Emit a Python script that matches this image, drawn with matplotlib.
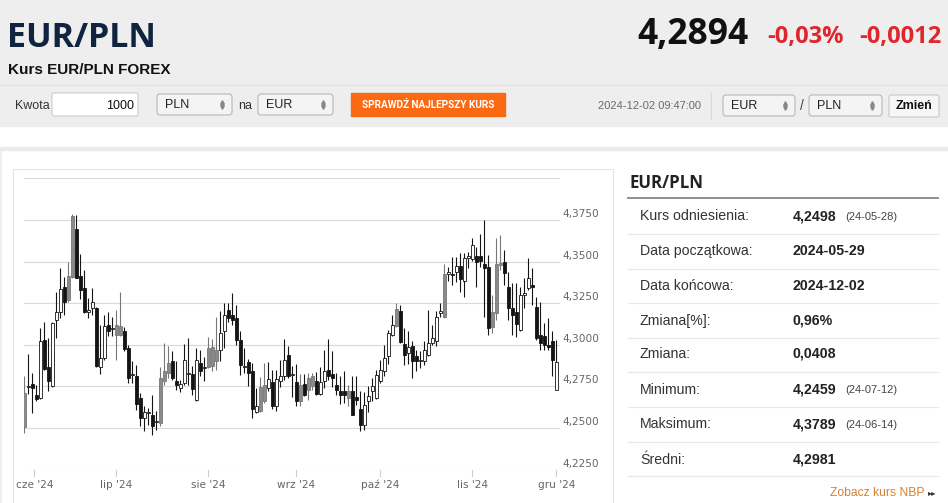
import numpy as np
import pandas as pd
import matplotlib
matplotlib.use("Agg")
import matplotlib.pyplot as plt
from matplotlib.patches import Rectangle, FancyBboxPatch
import matplotlib.transforms as mtransforms

# ---------------- data ----------------
dates = pd.bdate_range("2024-05-29", "2024-12-02")

open_ = [4.2504, 4.2745, 4.2764, 4.2696, 4.2680, 4.3030, 4.2864, 4.2750, 4.3150, 4.3200,
         4.3350, 4.3270, 4.3410, 4.3696, 4.3416, 4.3340, 4.3196, 4.3220, 4.3224, 4.2864,
         4.2920, 4.3120, 4.3094, 4.3056, 4.3056, 4.3084, 4.2980, 4.2818, 4.2810, 4.2680,
         4.2560, 4.2588, 4.2580, 4.2534, 4.2530, 4.2784, 4.2830, 4.2904, 4.2780, 4.2740,
         4.2770, 4.2822, 4.2824, 4.2670, 4.2890, 4.2858, 4.2864, 4.2870, 4.2900, 4.2970,
         4.3080, 4.3210, 4.3180, 4.3160, 4.3030, 4.2864, 4.2896, 4.2844, 4.2596, 4.2600,
         4.2660, 4.2740, 4.2776, 4.2630, 4.2780, 4.2810, 4.2940, 4.2818, 4.2776, 4.2660,
         4.2764, 4.2730, 4.2750, 4.2780, 4.2704, 4.2784, 4.2850, 4.2824, 4.2760, 4.2720,
         4.2724, 4.2680, 4.2724, 4.2686, 4.2616, 4.2516, 4.2660, 4.2720, 4.2680, 4.2780,
         4.2840, 4.2930, 4.3060, 4.3110, 4.3204, 4.3004, 4.2950, 4.2990, 4.2930, 4.2902,
         4.2900, 4.2940, 4.3010, 4.3020, 4.3194, 4.3170, 4.3428, 4.3422, 4.3440, 4.3476,
         4.3384, 4.3524, 4.3516, 4.3536, 4.3536, 4.3484, 4.3470, 4.3104, 4.3190, 4.3482,
         4.3500, 4.3350, 4.3220, 4.3200, 4.3090, 4.3302, 4.3340, 4.3360, 4.3230, 4.3060,
         4.3050, 4.3000, 4.3024, 4.2730]
high_ = [4.2810, 4.2944, 4.2830, 4.2760, 4.3100, 4.3136, 4.3040, 4.3136, 4.3320, 4.3460,
         4.3410, 4.3496, 4.3789, 4.3780, 4.3544, 4.3450, 4.3284, 4.3340, 4.3230, 4.3120,
         4.3180, 4.3200, 4.3170, 4.3210, 4.3316, 4.3104, 4.3000, 4.2900, 4.2880, 4.2710,
         4.2630, 4.2620, 4.2696, 4.2600, 4.2864, 4.3010, 4.2990, 4.2960, 4.2904, 4.2790,
         4.3004, 4.3040, 4.2870, 4.2980, 4.2970, 4.2924, 4.3044, 4.3036, 4.3170, 4.3204,
         4.3250, 4.3250, 4.3310, 4.3240, 4.3084, 4.2980, 4.2916, 4.2890, 4.2740, 4.2804,
         4.2890, 4.2896, 4.2850, 4.2850, 4.2910, 4.3036, 4.2990, 4.2870, 4.2884, 4.2824,
         4.2824, 4.2830, 4.2830, 4.2836, 4.2864, 4.2970, 4.3036, 4.2964, 4.2830, 4.2810,
         4.2840, 4.2760, 4.2810, 4.2810, 4.2720, 4.2716, 4.2750, 4.2800, 4.2850, 4.2910,
         4.3000, 4.3090, 4.3180, 4.3250, 4.3240, 4.3100, 4.3080, 4.3020, 4.2970, 4.2960,
         4.3020, 4.3210, 4.3116, 4.3204, 4.3250, 4.3484, 4.3470, 4.3530, 4.3530, 4.3550,
         4.3550, 4.3560, 4.3640, 4.3590, 4.3664, 4.3750, 4.3540, 4.3300, 4.3644, 4.3660,
         4.3570, 4.3440, 4.3370, 4.3370, 4.3350, 4.3404, 4.3524, 4.3460, 4.3290, 4.3256,
         4.3130, 4.3160, 4.3080, 4.3030]
low_ = [4.2470, 4.2704, 4.2590, 4.2660, 4.2676, 4.2850, 4.2724, 4.2744, 4.3040, 4.3164,
        4.3180, 4.3260, 4.3404, 4.3400, 4.3276, 4.3190, 4.3160, 4.3180, 4.2864, 4.2824,
        4.2910, 4.3050, 4.3050, 4.2910, 4.3050, 4.2960, 4.2770, 4.2770, 4.2610, 4.2510,
        4.2480, 4.2520, 4.2459, 4.2490, 4.2510, 4.2760, 4.2800, 4.2790, 4.2730, 4.2716,
        4.2760, 4.2760, 4.2700, 4.2660, 4.2810, 4.2780, 4.2860, 4.2840, 4.2850, 4.2900,
        4.2980, 4.3140, 4.3120, 4.3000, 4.2820, 4.2830, 4.2750, 4.2560, 4.2590, 4.2596,
        4.2650, 4.2724, 4.2616, 4.2600, 4.2744, 4.2790, 4.2800, 4.2684, 4.2630, 4.2630,
        4.2690, 4.2670, 4.2730, 4.2700, 4.2696, 4.2740, 4.2790, 4.2744, 4.2700, 4.2644,
        4.2650, 4.2630, 4.2576, 4.2640, 4.2484, 4.2490, 4.2596, 4.2660, 4.2676, 4.2770,
        4.2810, 4.2884, 4.3050, 4.3104, 4.3010, 4.2880, 4.2884, 4.2800, 4.2840, 4.2860,
        4.2880, 4.2930, 4.3000, 4.2990, 4.3170, 4.3160, 4.3384, 4.3360, 4.3380, 4.3320,
        4.3290, 4.3460, 4.3504, 4.3350, 4.3470, 4.3170, 4.3060, 4.3070, 4.3150, 4.3450,
        4.3360, 4.3150, 4.3060, 4.3044, 4.3084, 4.3220, 4.3330, 4.3240, 4.3030, 4.2970,
        4.2970, 4.2970, 4.2810, 4.2730]
close_ = [4.2710, 4.2750, 4.2740, 4.2676, 4.3024, 4.2856, 4.2780, 4.3130, 4.3196, 4.3336,
          4.3260, 4.3416, 4.3776, 4.3404, 4.3330, 4.3200, 4.3210, 4.3256, 4.2870, 4.2920,
          4.3110, 4.3084, 4.3098, 4.3120, 4.3110, 4.2976, 4.2800, 4.2822, 4.2644, 4.2560,
          4.2596, 4.2592, 4.2510, 4.2538, 4.2800, 4.2840, 4.2890, 4.2800, 4.2760, 4.2764,
          4.2910, 4.2826, 4.2736, 4.2910, 4.2840, 4.2862, 4.2980, 4.2984, 4.2970, 4.3070,
          4.3180, 4.3160, 4.3150, 4.3030, 4.2876, 4.2868, 4.2830, 4.2616, 4.2630, 4.2744,
          4.2760, 4.2796, 4.2630, 4.2796, 4.2810, 4.2910, 4.2810, 4.2822, 4.2660, 4.2760,
          4.2700, 4.2800, 4.2810, 4.2704, 4.2776, 4.2840, 4.2810, 4.2800, 4.2730, 4.2700,
          4.2700, 4.2720, 4.2580, 4.2670, 4.2520, 4.2640, 4.2690, 4.2750, 4.2816, 4.2850,
          4.2920, 4.3070, 4.3120, 4.3216, 4.3016, 4.2940, 4.2984, 4.2900, 4.2900, 4.2906,
          4.2970, 4.3010, 4.3040, 4.3170, 4.3198, 4.3424, 4.3432, 4.3418, 4.3476, 4.3396,
          4.3524, 4.3528, 4.3600, 4.3500, 4.3504, 4.3460, 4.3100, 4.3200, 4.3484, 4.3486,
          4.3430, 4.3220, 4.3180, 4.3124, 4.3300, 4.3306, 4.3404, 4.3350, 4.3040, 4.3010,
          4.3000, 4.2984, 4.2910, 4.2894]
kind = list("gwbbwbbwww" "bggbbbwwbw" "wbwggbbwbb" "wwbwgggbbw" "wwbwbwgggw"
            "wbbbbwbbwg" "gwbwwwbwbg" "bggbwwbbbb" "bgbbbwwwww" "wwwgbbwbbw"
            "wwwwwgwbwb" "wwwbbbbggg" "bbbbwwwbbb" "bbbw")

month_labels = ["cze '24", "lip '24", "sie '24", "wrz '24", "paź '24", "lis '24", "gru '24"]
month_starts = ["2024-06-01", "2024-07-01", "2024-08-01", "2024-09-01",
                "2024-10-01", "2024-11-01", "2024-12-01"]
y_ticks = [4.225, 4.250, 4.275, 4.300, 4.325, 4.350, 4.375]

stat_labels = ["Kurs odniesienia:", "Data początkowa:", "Data końcowa:", "Zmiana[%]:",
               "Zmiana:", "Minimum:", "Maksimum:", "Średni:"]
stat_values = ["4,2498", "2024-05-29", "2024-12-02", "0,96%", "0,0408", "4,2459", "4,3789", "4,2981"]
stat_dates = ["(24-05-28)", "", "", "", "", "(24-07-12)", "(24-06-14)", ""]

price_now = "4,2894"
change_pct = "-0,03%"
change_abs = "-0,0012"
timestamp = "2024-12-02 09:47:00"

# ---------------- figure ----------------
W, H = 948, 503
fig = plt.figure(figsize=(W / 100, H / 100), dpi=100)
fig.patch.set_facecolor("white")
page = fig.add_axes([0, 0, 1, 1])
page.set_xlim(0, W)
page.set_ylim(H, 0)
page.axis("off")

SANS = ["Liberation Sans", "DejaVu Sans"]
OPEN = ["Open Sans", "DejaVu Sans"]

# header background
page.add_patch(Rectangle((0, 0), W, 126, color="#eeeeee", zorder=0))
page.plot([0, W], [84.5, 84.5], color="#e2e2e2", lw=0.8, zorder=1)
page.add_patch(Rectangle((0, 147), W, 3, color="#ebebeb", zorder=0))
page.plot([0.5, 0.5], [150, H], color="#ebebeb", lw=1.2, zorder=1)

page.text(7, 46.5, "EUR/PLN", family=OPEN, fontweight="bold", fontsize=24.5,
          color="#10233f", va="baseline", ha="left")
page.text(8, 73.5, "Kurs EUR/PLN FOREX", family=SANS, fontweight="bold", fontsize=11,
          color="#111111", va="baseline", ha="left")

page.text(749, 43.5, price_now, family=OPEN, fontweight="bold", fontsize=25.5,
          color="#111111", va="baseline", ha="right")
page.text(844, 43, change_pct, family=OPEN, fontweight="bold", fontsize=17,
          color="#e0262d", va="baseline", ha="right")
page.text(942, 43, change_abs, family=OPEN, fontweight="bold", fontsize=17,
          color="#e0262d", va="baseline", ha="right")


def rbox(x, y, w, h, fc, ec, r=3, lw=0.8):
    page.add_patch(FancyBboxPatch((x, y), w, h, boxstyle=f"round,pad=0,rounding_size={r}",
                                  fc=fc, ec=ec, lw=lw, zorder=2))


def select(x, y, w, h, label):
    rbox(x, y, w, h, "#f4f4f4", "#b8b8b8")
    page.text(x + 8, y + h / 2 + 0.5, label, family=SANS, fontsize=9, color="#222222",
              va="center", ha="left", zorder=3)
    page.plot([x + w - 10], [y + h / 2 - 2.5], marker="^", ms=2.6, color="#888888", zorder=3)
    page.plot([x + w - 10], [y + h / 2 + 2.5], marker="v", ms=2.6, color="#888888", zorder=3)


page.text(15, 105.5, "Kwota", family=SANS, fontsize=9, color="#333333", va="center", ha="left")
rbox(52, 93, 86, 23, "white", "#cccccc", r=2)
page.text(134, 105.5, "1000", family=SANS, fontsize=9, color="#111111", va="center", ha="right", zorder=3)
select(157, 94, 75, 21, "PLN")
page.text(238, 105.5, "na", family=SANS, fontsize=9, color="#333333", va="center", ha="left")
select(258, 94, 75, 21, "EUR")
page.add_patch(Rectangle((351, 93), 154, 23, color="#fb6a12", zorder=2))
page.text(428, 104.5, "SPRAWDŹ NAJLEPSZY KURS", family=["Roboto", "DejaVu Sans"], fontweight="bold",
          fontsize=7.2, color="white", va="center", ha="center", zorder=3)

page.text(701, 106, timestamp, family=SANS, fontsize=8, color="#6a6a6a", va="center", ha="right")
page.plot([711, 711], [93, 119], color="#d8d8d8", lw=0.8)
select(723, 95, 72, 21, "EUR")
page.text(802, 106, "/", family=SANS, fontsize=10, color="#444444", va="center", ha="center")
select(809, 95, 73, 21, "PLN")
rbox(889, 95, 50, 22, "#f6f6f6", "#c8c8c8", r=2)
page.text(914, 106, "Zmień", family=SANS, fontweight="bold", fontsize=9, color="#111111",
          va="center", ha="center", zorder=3)

# chart box
box = Rectangle((13.5, 168.5), 600, 345, fc="white", ec="#e4e4e4", lw=0.8, zorder=1)
page.add_patch(box)

# ---------------- candlestick chart ----------------
x0, x1 = 24.0, 560.0
ytop, ybot = 178.4, 469.6
ax = fig.add_axes([x0 / W, 1 - ybot / H, (x1 - x0) / W, (ybot - ytop) / H])
ax.patch.set_alpha(0)
for s in ax.spines.values():
    s.set_visible(False)
ax.set_xticks([])
ax.set_yticks([])
ax.set_xlim(-0.08, 133.9)
ax.set_ylim(4.225, 4.400)

for v in y_ticks + [4.400]:
    ax.axhline(v, color="#d9d9d9", lw=0.8, zorder=1)

n = len(dates)
xs = np.arange(n)
o = np.array(open_)
c = np.array(close_)
hi = np.array(high_)
lo = np.array(low_)
fill_map = {"w": "white", "b": "#141414", "g": "#8a8a8a"}
edge_map = {"w": "#141414", "b": "#141414", "g": "#777777"}
fills = [fill_map[k] for k in kind]
edges = [edge_map[k] for k in kind]
bottom = np.minimum(o, c)
height = np.maximum(np.abs(c - o), 0.0007)
ax.vlines(xs, lo, hi, colors=edges, lw=0.8, zorder=2)
ax.bar(xs, height, bottom=bottom, width=0.72, color=fills, edgecolor=edges, lw=0.6, zorder=3)

# y labels (right side, slightly above gridlines)
ytrans = mtransforms.blended_transform_factory(page.transData, ax.transData) + \
    mtransforms.ScaledTranslation(0, 6 / 100, fig.dpi_scale_trans)
for v in y_ticks:
    page.text(562, v, f"{v:.4f}".replace(".", ","), transform=ytrans, family="DejaVu Sans",
              fontsize=7.6, color="#666666", va="center", ha="left")

# x ticks + labels
idx = np.searchsorted(dates.values, pd.to_datetime(month_starts).values)
xtrans = mtransforms.blended_transform_factory(ax.transData, page.transData)
for i, lab in zip(idx, month_labels):
    pos = i - 0.5 if i == idx[0] else i
    page.plot([pos, pos], [ybot, ybot + 6], transform=xtrans, color="#cccccc", lw=0.8)
    t = page.text(pos, 487.5, lab, transform=xtrans, family="DejaVu Sans", fontsize=7.6,
                  color="#666666", va="baseline", ha="center")
    t.set_clip_path(box)

# ---------------- right panel ----------------
page.text(630, 188, "EUR/PLN", family=OPEN, fontweight="bold", fontsize=12.2,
          color="#222222", va="baseline", ha="left")
page.plot([628, 938], [197.5, 197.5], color="#8f8f8f", lw=1.4)
row_c = [216.5, 251, 285.8, 320.5, 354, 389.5, 424.5, 459.5]
seps = [234, 268.5, 303, 337.5, 372, 407, 442, 476]
for yy in seps:
    page.plot([628, 938], [yy, yy], color="#e8e8e8", lw=0.8)
for yy, lab, val, dt in zip(row_c, stat_labels, stat_values, stat_dates):
    page.text(640, yy, lab, family=SANS, fontsize=10.2, color="#333333", va="center", ha="left")
    page.text(793, yy, val, family=SANS, fontsize=10.2, fontweight="bold", color="#222222",
              va="center", ha="left")
    if dt:
        page.text(845, yy + 0.5, dt, family=SANS, fontsize=8, color="#444444", va="center", ha="left")

page.text(925, 493, "Zobacz kurs NBP", family=SANS, fontsize=8.7, color="#d8822f",
          va="center", ha="right")
page.text(928, 493, "▸▸", family="DejaVu Sans", fontsize=6, color="#333333",
          va="center", ha="left")

fig.savefig("out.png", dpi=100, facecolor="white")
